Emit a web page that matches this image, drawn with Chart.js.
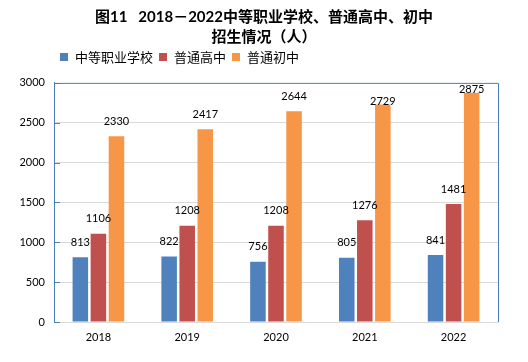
<!DOCTYPE html>
<html>
<head>
<meta charset="utf-8">
<script src="https://cdn.jsdelivr.net/npm/chart.js@4"></script>
<style>
  html, body { margin: 0; padding: 0; background: #fff; }
  #wrap { width: 528px; height: 362px; }
</style>
</head>
<body>
<div id="wrap"><canvas id="enrolChart" width="528" height="362"></canvas></div>
<script>
const years = ['2018', '2019', '2020', '2021', '2022'];
const vocational = [813, 822, 756, 805, 841];
const seniorHigh = [1106, 1208, 1208, 1276, 1481];
const juniorHigh = [2330, 2417, 2644, 2729, 2875];
const yTicks = [0, 500, 1000, 1500, 2000, 2500, 3000];
const seriesNames = ['中等职业学校', '普通高中', '普通初中'];
const titleLines = ['图11   2018－2022中等职业学校、普通高中、初中', '招生情况（人）'];

const FONT = 'Lato, "Noto Sans CJK SC", sans-serif';
const AXIS_BLUE = '#4a7ebb';
const GRID_GREY = '#d9d9d9';

// legend drawn by hand so it can sit left of centre like the original
const legendPlugin = {
    id: 'sideLegend',
    afterDraw: (chart) => {
        const ctx = chart.ctx;
        ctx.save();
        ctx.font = '13px "Noto Sans CJK SC", sans-serif';
        ctx.textBaseline = 'middle';
        ctx.textAlign = 'left';
        let x = 60;
        const y = 57;
        chart.data.datasets.forEach(ds => {
            ctx.fillStyle = ds.backgroundColor;
            ctx.fillRect(x, y - 4, 8, 8);
            ctx.fillStyle = '#000';
            ctx.fillText(ds.label, x + 15, y);
            x += 15 + ctx.measureText(ds.label).width + 6;
        });
        ctx.restore();
    },
};

// plot frame: blue top/right edges and short inward ticks on the value axis
const framePlugin = {
    id: 'plotFrame',
    afterDraw: (chart) => {
        const { ctx, chartArea } = chart;
        const yScale = chart.scales.y;
        ctx.save();
        ctx.strokeStyle = AXIS_BLUE;
        ctx.lineWidth = 1;
        ctx.beginPath();
        ctx.moveTo(chartArea.left, chartArea.top + 0.5);
        ctx.lineTo(chartArea.right + 0.5, chartArea.top + 0.5);
        ctx.lineTo(chartArea.right + 0.5, chartArea.bottom);
        yTicks.forEach(v => {
            const py = Math.round(yScale.getPixelForValue(v)) + 0.5;
            ctx.moveTo(chartArea.left, py);
            ctx.lineTo(chartArea.left + 6, py);
        });
        ctx.stroke();
        ctx.restore();
    },
};

// value labels above each bar
const valueLabels = {
    id: 'valueLabels',
    afterDatasetsDraw: (chart) => {
        const { ctx, chartArea } = chart;
        ctx.save();
        ctx.font = '11px ' + FONT;
        ctx.fillStyle = '#000';
        ctx.textAlign = 'center';
        ctx.textBaseline = 'middle';
        chart.data.datasets.forEach((ds, i) => {
            chart.getDatasetMeta(i).data.forEach((bar, j) => {
                let y = bar.y - 15;
                if (y - 7 < chartArea.top) y = bar.y - 3;
                ctx.fillText(String(ds.data[j]), bar.x, y);
            });
        });
        ctx.restore();
    },
};

new Chart(document.getElementById('enrolChart'), {
    type: 'bar',
    data: {
        labels: years,
        datasets: [
            { label: seriesNames[0], data: vocational, backgroundColor: '#4f81bd' },
            { label: seriesNames[1], data: seniorHigh, backgroundColor: '#c0504d' },
            { label: seriesNames[2], data: juniorHigh, backgroundColor: '#f79646' },
        ],
    },
    options: {
        responsive: false,
        animation: false,
        categoryPercentage: 0.61,
        barPercentage: 0.86,
        layout: { padding: { left: 0, right: 0, top: 0, bottom: 18 } },
        plugins: {
            legend: { display: false },
            tooltip: { enabled: false },
            title: {
                display: true,
                text: titleLines,
                color: '#000',
                font: { family: FONT, size: 15, weight: 'bold', lineHeight: 1.33 },
                padding: { top: 7, bottom: 36 },
            },
        },
        scales: {
            x: {
                grid: { display: false, drawTicks: false },
                border: { display: true, color: GRID_GREY, width: 1 },
                ticks: { color: '#000', font: { family: FONT, size: 11 }, padding: 9 },
                afterFit: (scale) => { scale.height = 22; },
            },
            y: {
                min: 0,
                max: 3000,
                afterBuildTicks: (scale) => { scale.ticks = yTicks.map(v => ({ value: v })); },
                grid: {
                    drawTicks: false,
                    color: (c) => (c.tick && (c.tick.value === 0 || c.tick.value === 3000)) ? 'rgba(0,0,0,0)' : GRID_GREY,
                },
                border: { display: true, color: AXIS_BLUE, width: 1 },
                ticks: {
                    color: '#000',
                    font: { family: FONT, size: 11 },
                    padding: 9,
                    callback: (value) => String(value),
                },
                afterFit: (scale) => { scale.width = 54; },
            },
            // empty right-hand gutter so the title stays centred on the page
            gutter: {
                type: 'linear',
                position: 'right',
                grid: { display: false, drawTicks: false },
                border: { display: false },
                ticks: { display: false },
                afterFit: (scale) => { scale.width = 30; },
            },
        },
    },
    plugins: [legendPlugin, framePlugin, valueLabels],
});
</script>
</body>
</html>
